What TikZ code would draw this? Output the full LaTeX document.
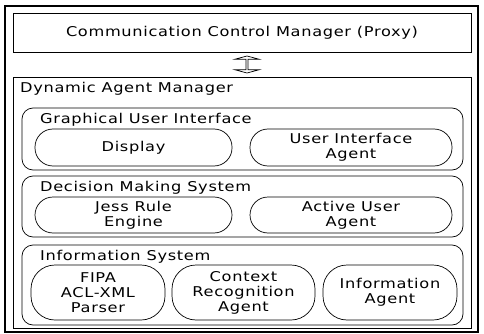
\documentclass[tikz,border=0pt]{standalone}
\usepackage{fontspec}
\setmainfont[FakeStretch=1.2,LetterSpace=5]{DejaVu Sans}
\usetikzlibrary{shapes.arrows}
\tikzset{
  box/.style={draw,line width=0.7pt,inner sep=0pt},
  group/.style={box,rounded corners=11pt,minimum width=441pt},
  agent/.style={box,rounded corners=18pt,align=center},
  caption/.style={anchor=west,inner sep=0pt},
  link/.style={draw,line width=0.7pt,shape=double arrow,shape border rotate=90,
    inner sep=0pt,minimum width=24pt,minimum height=17pt,
    double arrow head extend=4pt,double arrow tip angle=150},
}
\begin{document}
\begin{tikzpicture}[x=1pt,y=-1pt,font=\fontsize{13.5}{15}\selectfont]
\useasboundingbox (0,0) rectangle (484,334);
\draw[line width=1.4pt] (5,6) rectangle (478,332);
% proxy and manager
\node[box,minimum width=458pt,minimum height=39pt] (ccm) at (242,32.5) {Communication Control Manager (Proxy)};
\node[box,minimum width=458pt,minimum height=251pt] (dam) at (242,202.5) {};
\node[caption] (damlbl) at (20,89) {Dynamic Agent Manager};
\node[link] (link) at (247,64.5) {};
% graphical user interface
\node[group,minimum height=62pt] (gui) at (242.5,139) {};
\node[caption] (guilbl) at (40,120) {Graphical User Interface};
\node[agent,minimum width=197pt,minimum height=37pt] (disp) at (133.5,147.5) {Display};
\node[agent,minimum width=202pt,minimum height=37pt] (uia) at (351,147.5) {User Interface\\Agent};
% decision making system
\node[group,minimum height=61pt] (dms) at (242.5,206.5) {};
\node[caption] (dmslbl) at (40,188) {Decision Making System};
\node[agent,minimum width=197pt,minimum height=36pt] (jess) at (133.5,215) {Jess Rule\\Engine};
\node[agent,minimum width=202pt,minimum height=36pt] (aua) at (351,215) {Active User\\Agent};
% information system
\node[group,minimum height=80pt] (info) at (242.5,285) {};
\node[caption] (infolbl) at (40,257) {Information System};
\node[agent,rounded corners=24pt,minimum width=134pt,minimum height=55pt] (fipa) at (98,292.5) {FIPA\\ACL-XML\\Parser};
\node[agent,rounded corners=24pt,minimum width=143pt,minimum height=55pt] (cra) at (243.5,292.5) {Context\\Recognition\\Agent};
\node[agent,rounded corners=24pt,minimum width=134pt,minimum height=55pt] (ia) at (390,292.5) {Information\\Agent};
\end{tikzpicture}
\end{document}
